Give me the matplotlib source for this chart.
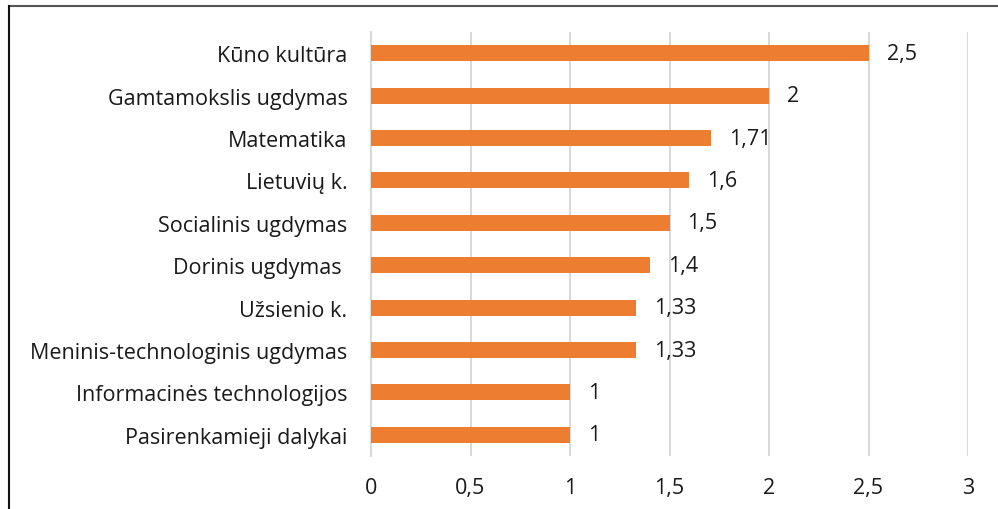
import matplotlib
matplotlib.use("Agg")
import matplotlib.pyplot as plt
from matplotlib.lines import Line2D

categories = ["Kūno kultūra", "Gamtamokslis ugdymas", "Matematika", "Lietuvių k.",
              "Socialinis ugdymas", "Dorinis ugdymas ", "Užsienio k.",
              "Meninis-technologinis ugdymas", "Informacinės technologijos",
              "Pasirenkamieji dalykai"]
values = [2.5, 2.0, 1.71, 1.6, 1.5, 1.4, 1.33, 1.33, 1.0, 1.0]
value_labels = ["2,5", "2", "1,71", "1,6", "1,5", "1,4", "1,33", "1,33", "1", "1"]
xticks = [0, 0.5, 1, 1.5, 2, 2.5, 3]
xtick_labels = ["0", "0,5", "1", "1,5", "2", "2,5", "3"]

plt.rcParams['font.family'] = ['Open Sans', 'DejaVu Sans']
FS = 15.5
TXT = "#1a1a1a"
W, H = 998, 510
fig = plt.figure(figsize=(W/100, H/100), dpi=100)
ax = fig.add_axes([371/W, 1-457/H, (968-371)/W, (457-33)/H])

ypos = list(range(len(categories)))
ax.barh(ypos, values, height=0.38, color="#ED7D31", zorder=3)
ax.set_ylim(len(categories)-0.5, -0.5)
ax.set_xlim(0, 3)
ax.set_yticks(ypos)
ax.set_yticklabels(categories, fontsize=FS, color=TXT)
ax.set_xticks(xticks)
ax.set_xticklabels(xtick_labels, fontsize=FS, color=TXT)
ax.tick_params(axis='both', length=0)
ax.tick_params(axis='y', pad=17)
ax.tick_params(axis='x', pad=15)
ax.grid(axis='x', color="#d9d9d9", linewidth=1.5, zorder=0)
for s in ["top", "right", "bottom"]:
    ax.spines[s].set_visible(False)
ax.spines["left"].set_color("#d9d9d9")
ax.spines["left"].set_linewidth(1.5)

for y, v, lab in zip(ypos, values, value_labels):
    ax.annotate(lab, (v, y), xytext=(18, 0), textcoords="offset pixels",
                va="center", ha="left", fontsize=FS, color=TXT)

# frame lines (top and left)
fig.add_artist(Line2D([9/W, 1], [1-7/H, 1-7/H], color="#555555", linewidth=1.5, transform=fig.transFigure))
fig.add_artist(Line2D([9/W, 9/W], [0, 1-7/H], color="#111111", linewidth=1.5, transform=fig.transFigure))

fig.savefig("out.png", dpi=100)
